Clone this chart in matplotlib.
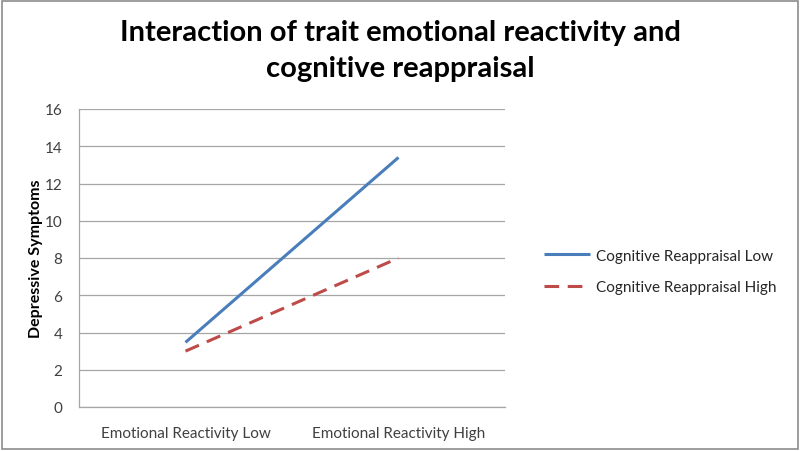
import matplotlib
matplotlib.use("Agg")
import matplotlib.pyplot as plt
from matplotlib.patches import Rectangle

plt.rcParams['font.family'] = ['Lato', 'DejaVu Sans']

# data
categories = ["Emotional Reactivity Low", "Emotional Reactivity High"]
reappraisal_low = [3.47, 13.4]
reappraisal_high = [3.0, 8.0]
yticks = [0, 2, 4, 6, 8, 10, 12, 14, 16]

fig = plt.figure(figsize=(8, 4.52), dpi=100)
ax = fig.add_axes([79/800, 1 - 408/452, (505-79)/800, (408-110)/452])

x = range(len(categories))
ax.plot(x, reappraisal_low, color='#4A7EBB', lw=2.2, solid_capstyle='butt',
        label="Cognitive Reappraisal Low")
ax.plot(x, reappraisal_high, color='#BE4B48', lw=2.2, ls=(0, (4.8, 2.8)),
        dash_capstyle='butt', label="Cognitive Reappraisal High")

ax.set_xlim(-0.5, 1.5)
ax.set_ylim(0, 16)
ax.set_yticks(yticks)
ax.set_xticks(list(x))
ax.set_xticklabels(categories)
ax.tick_params(length=0, labelsize=11, colors='#404040')
ax.tick_params(axis='y', pad=12)
ax.tick_params(axis='x', pad=14)
ax.yaxis.grid(True, color='#A6A6A6', lw=0.9)
ax.set_axisbelow(True)
for s in ['top', 'right']:
    ax.spines[s].set_visible(False)
for s in ['left', 'bottom']:
    ax.spines[s].set_color('#A6A6A6')
    ax.spines[s].set_linewidth(0.9)

ax.set_ylabel("Depressive Symptoms", fontsize=11.5, fontweight='bold', labelpad=1)

fig.suptitle("Interaction of trait emotional reactivity and\ncognitive reappraisal",
             x=0.5, y=0.955, fontsize=21, fontweight='bold', linespacing=1.45)

leg = ax.legend(loc='center left', bbox_to_anchor=(1.06, 0.455), frameon=False,
                fontsize=11, handlelength=3.0, handletextpad=0.4, labelspacing=1.15)
for t in leg.get_texts():
    t.set_color('#262626')

fig.patches.append(Rectangle((0.002, 0.005), 0.995, 0.99, transform=fig.transFigure,
                             fill=False, edgecolor='#8C8C8C', lw=1.2))

fig.savefig("out.png", dpi=100)
